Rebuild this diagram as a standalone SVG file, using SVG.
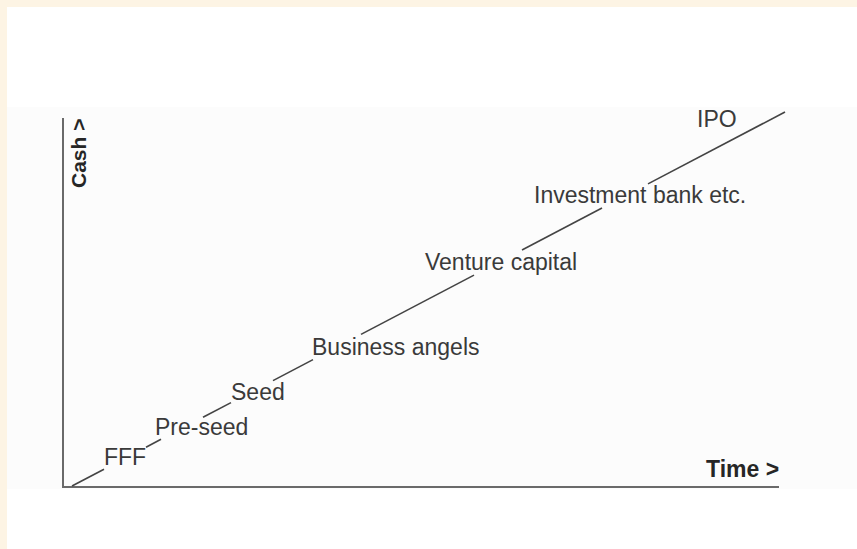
<svg xmlns="http://www.w3.org/2000/svg" width="857" height="549" viewBox="0 0 857 549">
  <style>
    .label { font-family: "Liberation Sans", Arial, sans-serif; font-size: 23px; fill: #3a3a3a; }
    .axis-label { font-family: "Liberation Sans", Arial, sans-serif; font-weight: bold; fill: #262626; }
    .axis { stroke: #6a6a6a; stroke-width: 2; fill: none; }
    .trend { stroke: #444; stroke-width: 1.6; fill: none; stroke-linecap: butt; }
  </style>

  <!-- page background with cream frame -->
  <rect x="0" y="0" width="857" height="549" fill="#fdf4e4"/>
  <rect x="7" y="7" width="850" height="542" fill="#ffffff"/>
  <rect x="7" y="107" width="850" height="382" fill="#fcfcfc"/>

  <!-- axes -->
  <g id="axes">
    <polyline class="axis" points="63,118 63,487 779,487"/>
    <text id="cash-label" class="axis-label" font-size="21" transform="translate(86,188) rotate(-90)">Cash &gt;</text>
    <text id="time-label" class="axis-label" font-size="23" x="706" y="477">Time &gt;</text>
  </g>

  <!-- growth line, broken around each stage label -->
  <g id="connectors">
    <line class="trend" x1="72" y1="486" x2="104" y2="469.2"/>
    <line class="trend" x1="146" y1="447.2" x2="161" y2="439.3"/>
    <line class="trend" x1="203" y1="417.3" x2="231" y2="402.6"/>
    <line class="trend" x1="273" y1="380.6" x2="313" y2="359.6"/>
    <line class="trend" x1="361" y1="334.4" x2="474" y2="275.1"/>
    <line class="trend" x1="522" y1="250" x2="602" y2="208"/>
    <line class="trend" x1="648" y1="183.9" x2="785" y2="112"/>
  </g>

  <!-- funding stages -->
  <g id="fff"><text class="label" x="104" y="465">FFF</text></g>
  <g id="pre-seed"><text class="label" x="155" y="435">Pre-seed</text></g>
  <g id="seed"><text class="label" x="231" y="400">Seed</text></g>
  <g id="business-angels"><text class="label" x="312" y="355">Business angels</text></g>
  <g id="venture-capital"><text class="label" x="425" y="270">Venture capital</text></g>
  <g id="investment-bank"><text class="label" x="534" y="203">Investment bank etc.</text></g>
  <g id="ipo"><text class="label" x="697" y="127">IPO</text></g>
</svg>
